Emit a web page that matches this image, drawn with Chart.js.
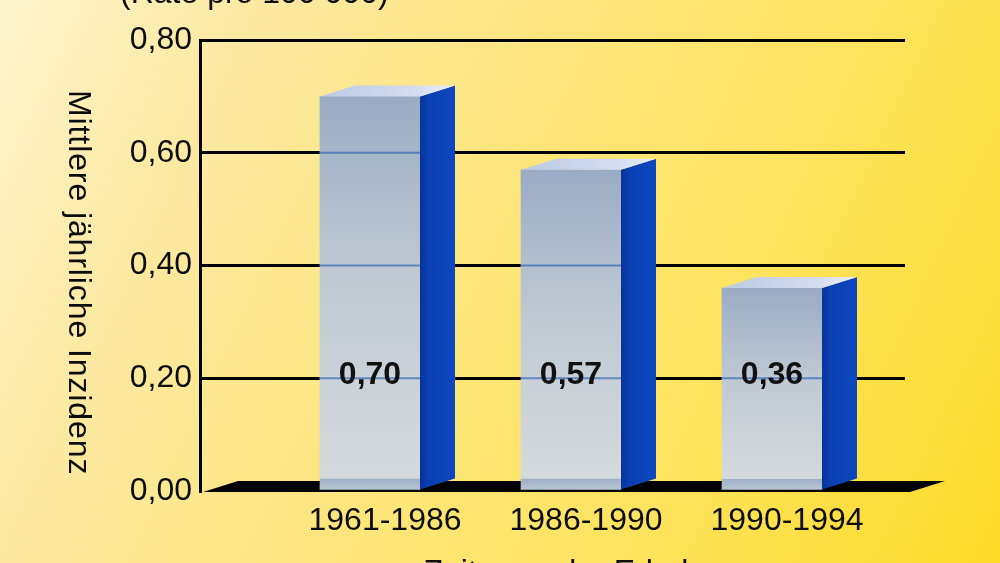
<!DOCTYPE html>
<html><head><meta charset="utf-8">
<script src="https://cdn.jsdelivr.net/npm/chart.js@4"></script>
<style>
html,body{margin:0;padding:0;width:1000px;height:563px;overflow:hidden}
#wrap{position:relative;width:1000px;height:563px;overflow:hidden;background:linear-gradient(115deg,#fdf4cc 0%,#fce9a2 20%,#fde67e 45%,#fde35e 70%,#fddb28 100%);font-family:"Liberation Sans",Arial,sans-serif;color:#0d0d0d}
canvas{position:absolute;left:0;top:0}
.t{position:absolute;font-size:32px;line-height:32px;white-space:nowrap}
#top{left:120px;top:-24px}
#bottom{left:588px;top:555px;transform:translateX(-50%)}
#ytitle{left:64px;top:90px;writing-mode:vertical-rl;letter-spacing:0.9px}
</style></head>
<body><div id="wrap"><canvas id="c" width="1000" height="563"></canvas>
<div class="t" id="top">(Rate pro 100 000)</div>
<div class="t" id="ytitle">Mittlere jährliche Inzidenz</div>
<div class="t" id="bottom">Zeitraum der Erhebung</div>
</div>
<script>
const categories = ['1961-1986', '1986-1990', '1990-1994'];
const values = [0.70, 0.57, 0.36];
const yTicks = [0, 0.2, 0.4, 0.6, 0.8];
const labelLevel = 0.2;

const FONT = '"Liberation Sans", Arial, sans-serif';
Chart.defaults.font.family = FONT;
const DX = 35, DY = 11;
const fmt = v => v.toFixed(2).replace('.', ',');

const bar3d = {
  id: 'bar3d',
  beforeDatasetsDraw(chart) {
    const {ctx, chartArea: a, scales: {y}} = chart;
    const y0 = y.getPixelForValue(0);
    ctx.save();
    ctx.fillStyle = '#000';
    ctx.beginPath();
    ctx.moveTo(a.left + 3, y0 + 1);
    ctx.lineTo(a.right + 5, y0 + 1);
    ctx.lineTo(a.right + 5 + DX, y0 + 1 - DY);
    ctx.lineTo(a.left + 3 + DX, y0 + 1 - DY);
    ctx.closePath();
    ctx.fill();
    ctx.restore();
  },
  afterDatasetsDraw(chart) {
    const {ctx, scales: {y}} = chart;
    const meta = chart.getDatasetMeta(0);
    ctx.save();
    meta.data.forEach((el, i) => {
      const w = el.width, l = el.x - w / 2, r = el.x + w / 2, t = el.y, b = el.base;
      ctx.strokeStyle = 'rgba(45,95,175,0.65)';
      ctx.lineWidth = 2;
      yTicks.forEach(v => {
        const py = y.getPixelForValue(v);
        if (v > 0 && py > t + 2 && py < b - 2) {
          ctx.beginPath(); ctx.moveTo(l, py); ctx.lineTo(r, py); ctx.stroke();
        }
      });
      const gs = ctx.createLinearGradient(r, 0, r + DX, 0);
      gs.addColorStop(0, '#08339a');
      gs.addColorStop(0.25, '#0b3fb2');
      gs.addColorStop(1, '#0d47c0');
      ctx.fillStyle = gs;
      ctx.beginPath();
      ctx.moveTo(r, t); ctx.lineTo(r + DX, t - DY); ctx.lineTo(r + DX, b - DY); ctx.lineTo(r, b);
      ctx.closePath(); ctx.fill();
      const gt = ctx.createLinearGradient(l, 0, r + DX, 0);
      gt.addColorStop(0, '#bccae2');
      gt.addColorStop(0.7, '#d4dcf0');
      gt.addColorStop(1, '#e8eef8');
      ctx.fillStyle = gt;
      ctx.beginPath();
      ctx.moveTo(l, t); ctx.lineTo(r, t); ctx.lineTo(r + DX, t - DY); ctx.lineTo(l + DX, t - DY);
      ctx.closePath(); ctx.fill();
      ctx.fillStyle = '#111';
      ctx.font = 'bold 32px ' + FONT;
      ctx.textAlign = 'center';
      ctx.textBaseline = 'middle';
      ctx.fillText(fmt(values[i]), el.x, y.getPixelForValue(labelLevel) - 3);
    });
    ctx.restore();
  }
};

const X_MIN = (200 - 370) / 201, X_MAX = (905 - 370) / 201;

new Chart(document.getElementById('c'), {
  type: 'bar',
  data: {
    datasets: [{
      data: categories.map((c, i) => ({x: i, y: values[i]})),
      borderWidth: 0,
      barThickness: 100,
      backgroundColor: (c) => {
        const chart = c.chart;
        if (!chart.chartArea || c.type !== 'data') return '#b8c2ce';
        const ys = chart.scales.y;
        const top = ys.getPixelForValue(values[c.dataIndex]);
        const base = ys.getPixelForValue(0);
        const g = chart.ctx.createLinearGradient(0, top, 0, base);
        const s = 1 - 12 / (base - top);
        g.addColorStop(0, '#9aabc4');
        g.addColorStop(0.45, '#c0c9d3');
        g.addColorStop(s - 0.002, '#d4d9dc');
        g.addColorStop(s, '#9fb0c6');
        g.addColorStop(1, '#bcc7d4');
        return g;
      }
    }]
  },
  options: {
    responsive: false,
    animation: false,
    devicePixelRatio: 1,
    layout: {padding: {left: 0, right: 95, top: 40, bottom: 0}},
    plugins: {legend: {display: false}, tooltip: {enabled: false}},
    scales: {
      x: {
        type: 'linear', min: X_MIN, max: X_MAX, offset: false,
        grid: {display: false, drawTicks: false, offset: false},
        border: {display: false},
        afterBuildTicks: s => { s.ticks = categories.map((c, i) => ({value: i})); },
        afterFit: s => { s.height = 72; },
        ticks: {
          callback: v => categories[v],
          font: {size: 32}, color: '#0d0d0d', padding: 11, labelOffset: 15,
          maxRotation: 0, autoSkip: false
        }
      },
      y: {
        min: 0, max: 0.8,
        afterBuildTicks: s => { s.ticks = yTicks.map(v => ({value: v})); },
        afterFit: s => { s.width = 200; },
        ticks: {callback: v => fmt(v), font: {size: 32}, color: '#0d0d0d', padding: 8},
        grid: {color: c => (c.tick && c.tick.value === 0) ? 'rgba(0,0,0,0)' : '#000', lineWidth: 3, drawTicks: false},
        border: {display: true, color: '#000', width: 3}
      }
    }
  },
  plugins: [bar3d]
});
</script>
</body></html>
